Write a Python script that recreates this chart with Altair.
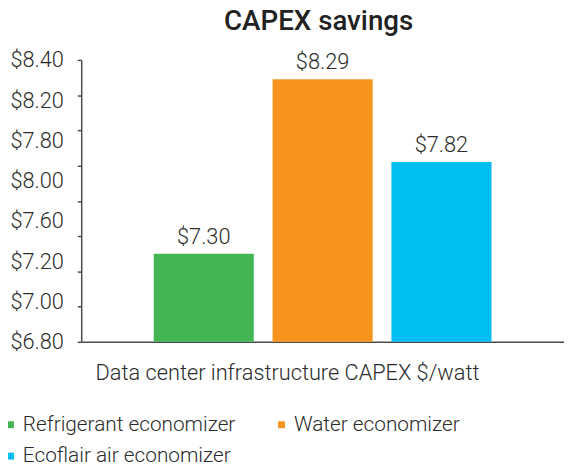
import altair as alt
import pandas as pd

series = ["Refrigerant economizer", "Water economizer", "Ecoflair air economizer"]
values = [7.30, 8.29, 7.82]
value_labels = ["$7.30", "$8.29", "$7.82"]
colors = ["#44B553", "#F7941D", "#00BDF2"]
legend_order = ["Refrigerant economizer", "Ecoflair air economizer", "Water economizer"]
y_ticks = [6.8, 7.0, 7.2, 7.4, 7.6, 7.8, 8.0, 8.2, 8.4]
y_tick_labels = ["$6.80", "$7.00", "$7.20", "$7.60", "$8.00", "$7.80", "$8.20", "$8.40"]
title_text = "CAPEX savings"
x_title = "Data center infrastructure CAPEX $/watt"

df = pd.DataFrame({"series": series, "value": values, "label": value_labels})
lab_df = pd.DataFrame({"idx": list(range(len(y_tick_labels))), "txt": y_tick_labels})

FONT = "Roboto"
TW = 300
TXT = "#2b2b2b"
AX = "#4a4a4a"

x_enc = alt.X(
    "series:N",
    sort=series,
    scale=alt.Scale(paddingInner=0.158, paddingOuter=0.61),
    axis=alt.Axis(
        orient="bottom", title=x_title, labels=False, ticks=False, domainColor=AX, domainWidth=1.5,
        titleFont=FONT, titleFontSize=22, titleFontWeight=TW, titleColor=TXT,
        titleX=208, titleY=31, titleBaseline="middle", titleAlign="center",
    ),
)
y_scale = alt.Scale(domain=[6.8, 8.4], zero=False, nice=False)

bars = alt.Chart(df).mark_bar(clip=True).encode(
    x=x_enc,
    y=alt.Y(
        "value:Q", scale=y_scale,
        axis=alt.Axis(orient="left", values=y_ticks, labels=False, tickSize=4, tickColor=AX,
                      tickWidth=1.5, domainColor=AX, domainWidth=1.5, grid=False, title=None),
    ),
    color=alt.Color(
        "series:N", sort=series,
        scale=alt.Scale(domain=series, range=colors),
        legend=alt.Legend(
            title=None, orient="none", legendX=-82, legendY=358, columns=2, values=legend_order,
            columnPadding=36, rowPadding=10, symbolType="square", symbolSize=49,
            symbolStrokeWidth=0, labelOffset=2, labelFont=FONT, labelFontSize=21,
            labelFontWeight=TW, labelColor=TXT, labelLimit=400, padding=0,
        ),
    ),
)

texts = alt.Chart(df).mark_text(
    baseline="bottom", dy=-5, font=FONT, fontSize=22, fontWeight=TW, color=TXT
).encode(
    x=alt.X("series:N", sort=series),
    y=alt.Y("value:Q", scale=y_scale, axis=None),
    text="label:N",
)

label_expr = "[" + ",".join("'" + s + "'" for s in y_tick_labels) + "][datum.value]"
ylabels = alt.Chart(lab_df).mark_point(opacity=0).encode(
    y=alt.Y(
        "idx:Q",
        scale=alt.Scale(domain=[0, len(y_tick_labels) - 1], nice=False, zero=False),
        axis=alt.Axis(orient="left", values=list(range(len(y_tick_labels))), labelExpr=label_expr,
                      domain=False, ticks=False, tickSize=0, labelPadding=18, grid=False,
                      title=None, labelFont=FONT, labelFontSize=22, labelFontWeight=TW,
                      labelColor=TXT, labelOverlap=False),
    ),
)

chart = alt.layer(bars, texts, ylabels).resolve_scale(y="independent").properties(
    width=488, height=285,
    title=alt.TitleParams(title_text, font=FONT, fontSize=28, fontWeight=500, color="#222222",
                          anchor="middle", offset=13, dx=-4),
    autosize=alt.AutoSizeParams(type="none"),
    padding={"left": 74, "top": 50, "right": 0, "bottom": 123},
).configure_view(stroke=None)

chart.save("out.html", embed_options={"renderer": "svg", "actions": False})
